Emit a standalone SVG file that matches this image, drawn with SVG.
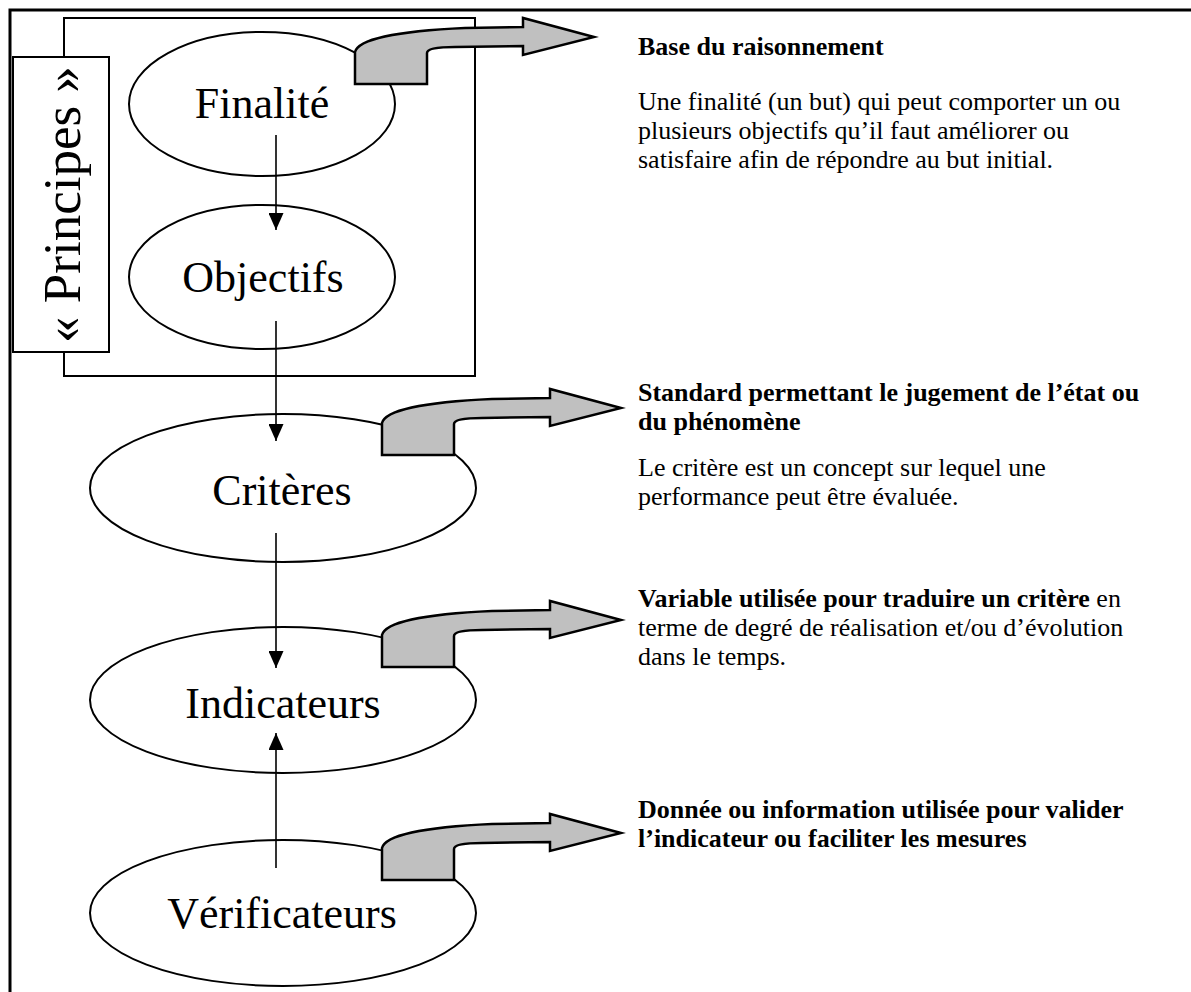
<svg xmlns="http://www.w3.org/2000/svg" xmlns:xlink="http://www.w3.org/1999/xlink" width="1191" height="992" viewBox="0 0 1191 992">
  <style>
    .frame { fill: none; stroke: #000; stroke-width: 3; }
    .box { fill: none; stroke: #000; stroke-width: 2; }
    .tag { fill: #fff; stroke: #000; stroke-width: 2; }
    .node { fill: #fff; stroke: #000; stroke-width: 2; }
    .label { font-family: "Liberation Serif", "Times New Roman", serif; font-size: 44px; fill: #000; text-anchor: middle; }
    .side { font-family: "Liberation Serif", "Times New Roman", serif; font-size: 53px; fill: #000; text-anchor: middle; }
    .desc { font-family: "Liberation Serif", "Times New Roman", serif; font-size: 26px; fill: #000; }
    .b { font-weight: bold; }
    .link { stroke: #000; stroke-width: 1.6; fill: none; marker-end: url(#head); }
    .stub { fill: #c0c0c0; stroke: #000; stroke-width: 2.5; stroke-linejoin: miter; }
  </style>
  <defs>
    <marker id="head" markerWidth="17" markerHeight="15" refX="17" refY="7.5" orient="auto" markerUnits="userSpaceOnUse" viewBox="0 0 17 15">
      <path d="M0,0 L17,7.5 L0,15 Z" fill="#000"/>
    </marker>
    <!-- curved block arrow, origin at bottom-left corner of its foot -->
    <path id="stub" class="stub" d="M0,0 L0,-32 C3,-44 40,-53 110,-56 L168,-57 L168,-66 L239,-47 L168,-29 L168,-38 L100,-37 C80,-37 72,-35 72,-31 L72,0 Z"/>
  </defs>

  <rect width="1191" height="992" fill="#fff"/>

  <!-- outer frame (top and left edges) -->
  <path class="frame" d="M10,992 L10,10 L1191,10"/>

  <!-- principles frame with its vertical tag -->
  <g id="principes">
    <rect class="box" x="64" y="18" width="411" height="358"/>
    <rect class="tag" x="13" y="57" width="96" height="295"/>
    <text class="side" transform="translate(80,204.5) rotate(-90)">« Principes »</text>
  </g>

  <g id="finalite">
    <ellipse class="node" cx="262" cy="104" rx="133" ry="72"/>
    <text class="label" x="262" y="118">Finalité</text>
    <use xlink:href="#stub" x="355" y="84"/>
  </g>

  <g id="objectifs">
    <ellipse class="node" cx="262" cy="277" rx="133" ry="72"/>
    <text class="label" x="263" y="292">Objectifs</text>
  </g>

  <g id="criteres">
    <ellipse class="node" cx="283" cy="488" rx="193" ry="74"/>
    <text class="label" x="282" y="505">Critères</text>
    <use xlink:href="#stub" x="382" y="455"/>
  </g>

  <g id="indicateurs">
    <ellipse class="node" cx="283" cy="700" rx="193" ry="73"/>
    <text class="label" x="283" y="718">Indicateurs</text>
    <use xlink:href="#stub" x="382" y="667"/>
  </g>

  <g id="verificateurs">
    <ellipse class="node" cx="283" cy="913" rx="193" ry="73"/>
    <text class="label" x="282" y="928">Vérificateurs</text>
    <use xlink:href="#stub" x="382" y="880"/>
  </g>

  <g id="connectors">
    <line class="link" x1="276" y1="135" x2="276" y2="230"/>
    <line class="link" x1="276" y1="321" x2="276" y2="441"/>
    <line class="link" x1="276" y1="533" x2="276" y2="668"/>
    <line class="link" x1="276" y1="868" x2="276" y2="733"/>
  </g>

  <g id="desc-finalite" class="desc">
    <text x="638" y="55" class="b">Base du raisonnement</text>
    <text x="638" y="110">Une finalité (un but) qui peut comporter un ou</text>
    <text x="638" y="139">plusieurs objectifs qu’il faut améliorer ou</text>
    <text x="638" y="168">satisfaire afin de répondre au but initial.</text>
  </g>

  <g id="desc-criteres" class="desc">
    <text x="638" y="401" class="b">Standard permettant le jugement de l’état ou</text>
    <text x="638" y="430" class="b">du phénomène</text>
    <text x="638" y="476">Le critère est un concept sur lequel une</text>
    <text x="638" y="505">performance peut être évaluée.</text>
  </g>

  <g id="desc-indicateurs" class="desc">
    <text x="638" y="607"><tspan class="b">Variable utilisée pour traduire un critère</tspan> en</text>
    <text x="638" y="636">terme de degré de réalisation et/ou d’évolution</text>
    <text x="638" y="665">dans le temps.</text>
  </g>

  <g id="desc-verificateurs" class="desc">
    <text x="638" y="818" class="b">Donnée ou information utilisée pour valider</text>
    <text x="638" y="847" class="b">l’indicateur ou faciliter les mesures</text>
  </g>
</svg>
